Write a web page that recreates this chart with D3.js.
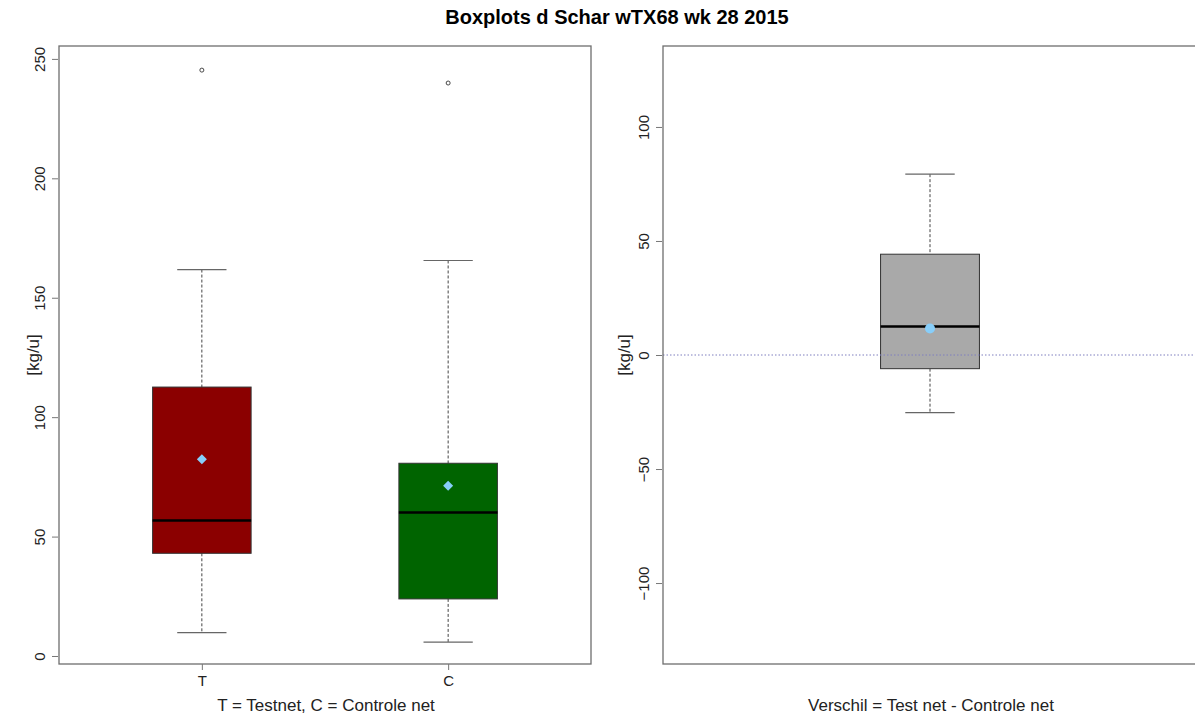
<!DOCTYPE html>
<html>
<head>
<meta charset="utf-8">
<script src="https://cdn.jsdelivr.net/npm/d3@7"></script>
<style>
  body { margin: 0; background: #fff; }
  svg { display: block; font-family: "Liberation Sans", Arial, sans-serif; }
</style>
</head>
<body>
<svg id="chart" width="1195" height="720"></svg>
<script>
// ---- Data ----
const title = "Boxplots d Schar wTX68 wk 28 2015";
const groups = ["T", "C"];
const groupColors = ["#8B0000", "#006400"];
const whiskerLow = [9.8, 5.8];
const q1 = [43.0, 23.9];
const median = [56.7, 60.1];
const q3 = [112.6, 80.7];
const whiskerHigh = [161.8, 165.6];
const means = [82.4, 71.3];
const outliers = [[245.3], [239.9]];
const leftTicks = [0, 50, 100, 150, 200, 250];

const diffLow = -25.3, diffQ1 = -6.0, diffMedian = 12.5, diffQ3 = 44.2, diffHigh = 79.3, diffMean = 11.6;
const rightTicks = [-100, -50, 0, 50, 100];

const yLabel = "[kg/u]";
const leftXLabel = "T = Testnet, C = Controle net";
const rightXLabel = "Verschil = Test net - Controle net";

// ---- Layout ----
const svg = d3.select("#chart");
const L = {x0: 59, x1: 591, y0: 46, y1: 664};
const R = {x0: 663, x1: 1197, y0: 46, y1: 664};
const frameColor = "#6e6e6e";
const tickFont = 15;
const labelFont = 17;

svg.append("text").attr("x", 617).attr("y", 24).attr("text-anchor", "middle")
  .attr("font-weight", "bold").attr("font-size", 20).text(title);

function drawBox(g, x, y, cx, halfW, s, fill, meanShape) {
  const stroke = "#333";
  g.append("line").attr("x1", x(cx)).attr("x2", x(cx)).attr("y1", y(s.high)).attr("y2", y(s.q3))
    .attr("stroke", "#444").attr("stroke-dasharray", "3,2");
  g.append("line").attr("x1", x(cx)).attr("x2", x(cx)).attr("y1", y(s.q1)).attr("y2", y(s.low))
    .attr("stroke", "#444").attr("stroke-dasharray", "3,2");
  [s.high, s.low].forEach(v => {
    g.append("line").attr("x1", x(cx - halfW / 2)).attr("x2", x(cx + halfW / 2))
      .attr("y1", y(v)).attr("y2", y(v)).attr("stroke", "#666").attr("stroke-width", 1.2);
  });
  g.append("rect").attr("x", x(cx - halfW)).attr("width", x(cx + halfW) - x(cx - halfW))
    .attr("y", y(s.q3)).attr("height", y(s.q1) - y(s.q3))
    .attr("fill", fill).attr("stroke", stroke).attr("stroke-width", 1);
  g.append("line").attr("x1", x(cx - halfW)).attr("x2", x(cx + halfW))
    .attr("y1", y(s.median)).attr("y2", y(s.median)).attr("stroke", "#000").attr("stroke-width", 2.5);
  if (meanShape === "diamond") {
    g.append("path").attr("d", d3.symbol(d3.symbolSquare, 50)())
      .attr("transform", `translate(${x(cx)},${y(s.mean)}) rotate(45)`).attr("fill", "#87CEFA");
  } else {
    g.append("circle").attr("cx", x(cx)).attr("cy", y(s.mean)).attr("r", 5).attr("fill", "#87CEFA");
  }
}

// ---- Left panel ----
const xL = d3.scaleLinear().domain([0.42, 2.58]).range([L.x0, L.x1]);
const yL = d3.scaleLinear().domain([-3.35, 255.4]).range([L.y1, L.y0]);
const gL = svg.append("g");

groups.forEach((gname, i) => {
  const s = {low: whiskerLow[i], q1: q1[i], median: median[i], q3: q3[i], high: whiskerHigh[i], mean: means[i]};
  drawBox(gL, xL, yL, i + 1, 0.2, s, groupColors[i], "diamond");
  outliers[i].forEach(v => {
    gL.append("circle").attr("cx", xL(i + 1)).attr("cy", yL(v)).attr("r", 2)
      .attr("fill", "none").attr("stroke", "#333").attr("stroke-width", 0.9);
  });
});

gL.append("rect").attr("x", L.x0).attr("y", L.y0).attr("width", L.x1 - L.x0).attr("height", L.y1 - L.y0)
  .attr("fill", "none").attr("stroke", frameColor).attr("stroke-width", 1.3);

const axL = d3.axisLeft(yL).tickValues(leftTicks).tickSize(6).tickPadding(4);
const gAxL = svg.append("g").attr("transform", `translate(${L.x0 - 1},0)`).call(axL);
gAxL.select(".domain").remove();
gAxL.selectAll(".tick line").attr("stroke", "#777");
gAxL.selectAll(".tick text").attr("font-size", tickFont).attr("fill", "#222")
  .attr("text-anchor", "middle").attr("x", 0).attr("y", 0).attr("dy", null)
  .attr("transform", "translate(-13,0) rotate(-90)");

const axXL = d3.axisBottom(xL).tickValues([1, 2]).tickFormat((d) => groups[d - 1]).tickSize(6).tickPadding(5);
const gAxXL = svg.append("g").attr("transform", `translate(0,${L.y1})`).call(axXL);
gAxXL.select(".domain").remove();
gAxXL.selectAll(".tick line").attr("stroke", "#777");
gAxXL.selectAll(".tick text").attr("font-size", tickFont).attr("fill", "#222");

svg.append("text").attr("transform", "translate(39,355) rotate(-90)").attr("text-anchor", "middle")
  .attr("font-size", labelFont).attr("fill", "#222").text(yLabel);
svg.append("text").attr("x", 326).attr("y", 711).attr("text-anchor", "middle")
  .attr("font-size", labelFont).attr("fill", "#222").text(leftXLabel);

// ---- Right panel ----
const xR = d3.scaleLinear().domain([0.46, 1.54]).range([R.x0, R.x1]);
const yR = d3.scaleLinear().domain([-135.5, 135.5]).range([R.y1, R.y0]);
const gR = svg.append("g");

drawBox(gR, xR, yR, 1, 0.1,
  {low: diffLow, q1: diffQ1, median: diffMedian, q3: diffQ3, high: diffHigh, mean: diffMean},
  "#A9A9A9", "circle");

gR.append("line").attr("x1", R.x0).attr("x2", R.x1).attr("y1", yR(0)).attr("y2", yR(0))
  .attr("stroke", "#7f7fbf").attr("stroke-width", 1).attr("stroke-dasharray", "1.5,2");

gR.append("rect").attr("x", R.x0).attr("y", R.y0).attr("width", R.x1 - R.x0).attr("height", R.y1 - R.y0)
  .attr("fill", "none").attr("stroke", frameColor).attr("stroke-width", 1.3);

const axR = d3.axisLeft(yR).tickValues(rightTicks).tickSize(6).tickPadding(4);
const gAxR = svg.append("g").attr("transform", `translate(${R.x0 - 1},0)`).call(axR);
gAxR.select(".domain").remove();
gAxR.selectAll(".tick line").attr("stroke", "#777");
gAxR.selectAll(".tick text").attr("font-size", tickFont).attr("fill", "#222")
  .attr("text-anchor", "middle").attr("x", 0).attr("y", 0).attr("dy", null)
  .attr("transform", "translate(-13,0) rotate(-90)");

svg.append("text").attr("transform", "translate(630,355) rotate(-90)").attr("text-anchor", "middle")
  .attr("font-size", labelFont).attr("fill", "#222").text(yLabel);
svg.append("text").attr("x", 931).attr("y", 711).attr("text-anchor", "middle")
  .attr("font-size", labelFont).attr("fill", "#222").text(rightXLabel);
</script>
</body>
</html>
